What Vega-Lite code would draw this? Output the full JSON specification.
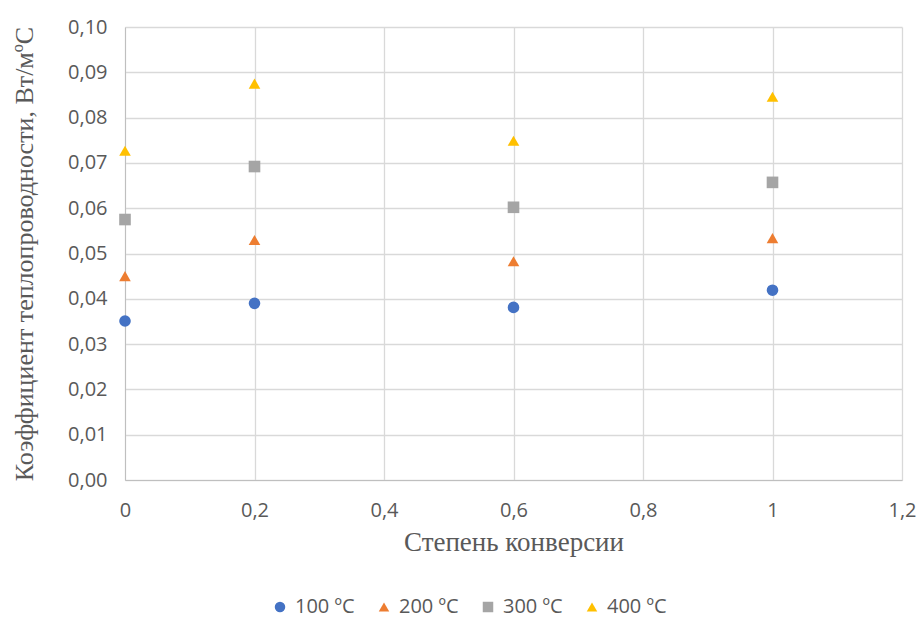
{
  "$schema": "https://vega.github.io/schema/vega-lite/v6.json",
  "width": 777,
  "height": 453,
  "autosize": "none",
  "padding": {"left": 125, "top": 27, "right": 17, "bottom": 141},
  "background": "white",
  "config": {
    "view": {"stroke": null},
    "axis": {"labelFont": "Open Sans", "labelColor": "#595959", "titleColor": "#595959", "gridColor": "#D9D9D9", "gridWidth": 1.3, "domainColor": "#BFBFBF", "ticks": false}
  },
  "data": {"values": [
    {"x": 0, "y": 0.0351, "s": "100 ºC"},
    {"x": 0.2, "y": 0.0390, "s": "100 ºC"},
    {"x": 0.6, "y": 0.0381, "s": "100 ºC"},
    {"x": 1, "y": 0.0419, "s": "100 ºC"},
    {"x": 0, "y": 0.0450, "s": "200 ºC"},
    {"x": 0.2, "y": 0.0530, "s": "200 ºC"},
    {"x": 0.6, "y": 0.0483, "s": "200 ºC"},
    {"x": 1, "y": 0.0534, "s": "200 ºC"},
    {"x": 0, "y": 0.0575, "s": "300 ºC"},
    {"x": 0.2, "y": 0.0692, "s": "300 ºC"},
    {"x": 0.6, "y": 0.0602, "s": "300 ºC"},
    {"x": 1, "y": 0.0657, "s": "300 ºC"},
    {"x": 0, "y": 0.0727, "s": "400 ºC"},
    {"x": 0.2, "y": 0.0875, "s": "400 ºC"},
    {"x": 0.6, "y": 0.0749, "s": "400 ºC"},
    {"x": 1, "y": 0.0846, "s": "400 ºC"}
  ]},
  "mark": {"type": "point", "filled": true, "opacity": 1, "size": 135},
  "encoding": {
    "x": {"field": "x", "type": "quantitative",
      "scale": {"domain": [0, 1.2], "nice": false, "zero": false},
      "axis": {"values": [0, 0.2, 0.4, 0.6, 0.8, 1, 1.2], "labelExpr": "replace(format(datum.value, '.1~f'), '.', ',')", "labelFontSize": 20, "labelPadding": 20, "labelFlush": false, "title": "Степень конверсии", "titleFont": "Liberation Serif", "titleFontSize": 27, "titleFontWeight": "normal", "titlePadding": 9, "grid": true}},
    "y": {"field": "y", "type": "quantitative",
      "scale": {"domain": [0, 0.1], "nice": false},
      "axis": {"values": [0, 0.01, 0.02, 0.03, 0.04, 0.05, 0.06, 0.07, 0.08, 0.09, 0.1], "labelExpr": "replace(format(datum.value, '.2f'), '.', ',')", "labelFontSize": 20, "labelPadding": 18, "title": "Коэффициент теплопроводности, Вт/мºС", "titleFont": "Liberation Serif", "titleFontSize": 26, "titleFontWeight": "normal", "titlePadding": 30, "grid": true}},
    "color": {"field": "s", "type": "nominal",
      "scale": {"domain": ["100 ºC", "200 ºC", "300 ºC", "400 ºC"], "range": ["#4472C4", "#ED7D31", "#A5A5A5", "#FFC000"]},
      "legend": {"title": null, "orient": "none", "direction": "horizontal", "legendX": 145, "legendY": 570, "labelFont": "Open Sans", "labelFontSize": 20, "labelColor": "#595959", "symbolSize": 110, "labelOffset": 5, "columnPadding": 19, "symbolOpacity": 1}},
    "shape": {"field": "s", "type": "nominal",
      "scale": {"domain": ["100 ºC", "200 ºC", "300 ºC", "400 ºC"], "range": ["circle", "triangle-up", "square", "triangle-up"]},
      "legend": null}
  }
}
